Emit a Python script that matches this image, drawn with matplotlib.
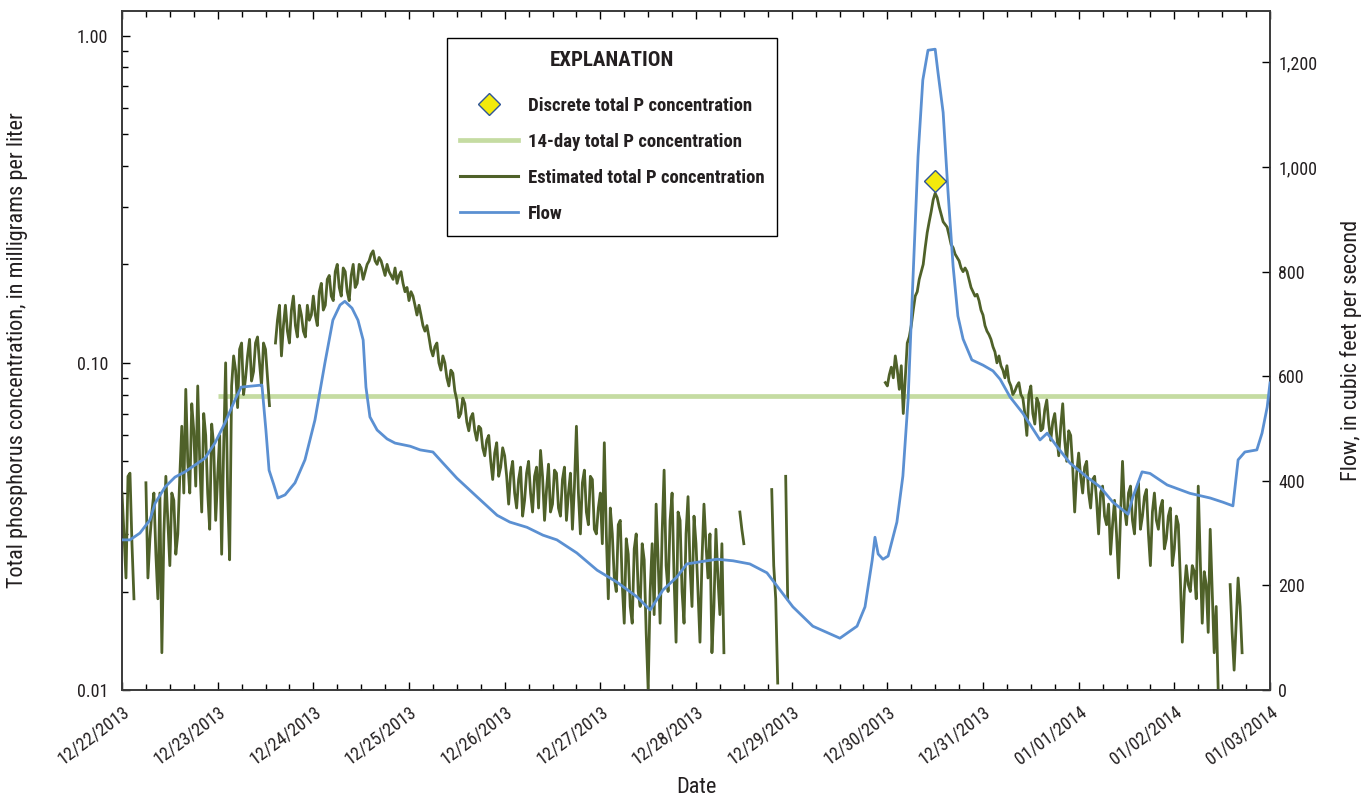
import numpy as np
import pandas as pd
import matplotlib
matplotlib.use("Agg")
import matplotlib.pyplot as plt
import matplotlib.dates as mdates
from matplotlib import font_manager as fm
from matplotlib.ticker import FixedLocator, LogLocator, NullFormatter, FuncFormatter
from matplotlib.lines import Line2D


def pick_font():
    """Prefer a narrow sans face; fall back to Liberation Sans."""
    prefs = ["Liberation Sans Narrow", "Roboto Condensed", "Open Sans Condensed",
             "Noto Sans", "DejaVu Sans", "Open Sans", "Roboto"]
    for fam in prefs:
        for f in fm.fontManager.ttflist:
            narrow_name = fam.endswith(("Narrow", "Condensed"))
            if f.name == fam and (narrow_name or f.stretch in ("condensed", "semi-condensed")):
                return f.name, ("normal" if narrow_name else f.stretch), True
    return "Liberation Sans", "normal", False


FONT, STRETCH, NARROW = pick_font()
plt.rcParams["font.family"] = [FONT, "DejaVu Sans"]
plt.rcParams["font.stretch"] = STRETCH
if NARROW:
    SZ = dict(tick=13, label=16, leg=13.5, title=15)
else:
    SZ = dict(tick=11, label=14, leg=11.4, title=12.8)

# ---------------------------------------------------------------- data
start = pd.Timestamp("2013-12-22 00:00")
end = pd.Timestamp("2014-01-03 00:00")

# Flow, cubic feet per second (hours after start, value)
flow_hours = [0.0, 2.0, 4.5, 7.0, 8.3, 10.8, 13.3, 15.8, 18.3, 20.8, 23.3, 25.8,
              28.3, 29.9, 35.1, 36.1, 36.9, 38.1, 39.1, 40.9, 43.4, 45.9, 48.4, 50.9,
              52.9, 54.7, 55.9, 57.7, 59.2, 60.5, 61.2, 62.2, 64.0, 66.5, 68.5, 72.3,
              74.8, 78.0, 80.5, 84.0, 89.1, 94.1, 97.3, 101.6, 105.6, 109.1, 114.1, 119.2,
              124.2, 129.2, 132.5, 135.7, 139.2, 141.7, 145.0, 149.3, 153.3, 157.5, 161.8, 165.1,
              168.3, 173.3, 180.1, 184.4, 186.4, 188.2, 188.9, 189.7, 190.9, 192.2, 194.4, 195.9,
              197.2, 198.4, 199.7, 200.9, 202.2, 204.0, 204.7, 206.0, 207.2, 208.5, 209.7, 211.0,
              213.2, 216.0, 218.5, 220.3, 222.8, 226.0, 230.3, 232.1, 234.6, 237.8, 242.1, 245.4,
              248.6, 252.4, 253.6, 255.9, 257.9, 262.2, 267.9, 273.0, 276.2, 278.7, 280.0, 281.7,
              284.7, 286.0, 287.3, 288.0]
flow_cfs = [287, 287, 300, 325, 357, 388, 407, 417, 430, 443, 472, 510,
            554, 579, 583, 497, 420, 392, 367, 373, 396, 440, 516, 625,
            707, 736, 743, 730, 707, 669, 579, 522, 497, 480, 472, 466,
            459, 455, 434, 405, 369, 334, 321, 311, 296, 287, 262, 229,
            206, 178, 153, 191, 216, 241, 245, 250, 247, 241, 224, 191,
            159, 122, 99, 122, 159, 248, 292, 260, 250, 256, 321, 409,
            554, 780, 1020, 1166, 1223, 1225, 1181, 1104, 955, 810, 715, 671,
            631, 621, 610, 594, 560, 529, 478, 491, 465, 434, 407, 388,
            359, 336, 369, 417, 414, 392, 376, 367, 359, 352, 440, 455,
            459, 491, 541, 587]

# Estimated total P concentration, mg/L (None = no estimate)
# readings on the hour, starting 12/22 00:00
conc_on_hour = [
    # 12/22
    0.040, 0.022, 0.046, 0.019, None, None, 0.043, 0.029, 0.040, 0.019, 0.013, 0.045,
    0.024, 0.038, 0.030, 0.064, 0.083, 0.040, 0.062, 0.085, 0.035, 0.060, 0.031, 0.056,
    # 12/23
    0.045, 0.026, 0.100, 0.025, 0.105, 0.073, 0.115, 0.090, 0.118, 0.094, 0.120, 0.085,
    0.110, 0.074, None, 0.135, 0.105, 0.150, 0.115, 0.160, 0.120, 0.140, 0.120, 0.135,
    # 12/24
    0.160, 0.130, 0.175, 0.150, 0.185, 0.155, 0.200, 0.160, 0.190, 0.155, 0.200, 0.175,
    0.195, 0.190, 0.205, 0.220, 0.200, 0.205, 0.185, 0.190, 0.180, 0.175, 0.190, 0.165,
    # 12/25
    0.155, 0.160, 0.140, 0.140, 0.125, 0.120, 0.105, 0.115, 0.095, 0.100, 0.085, 0.093,
    0.077, 0.070, 0.075, 0.062, 0.070, 0.058, 0.063, 0.052, 0.060, 0.044, 0.057, 0.048,
    # 12/26
    0.052, 0.037, 0.050, 0.036, 0.048, 0.038, 0.050, 0.035, 0.048, 0.054, 0.033, 0.049,
    0.037, 0.046, 0.034, 0.048, 0.040, 0.031, 0.064, 0.030, 0.047, 0.032, 0.044, 0.030,
    # 12/27
    0.040, 0.057, 0.019, 0.030, 0.020, 0.033, 0.016, 0.026, 0.016, 0.030, 0.018, 0.025,
    0.010, 0.028, 0.037, 0.016, 0.047, 0.020, 0.040, 0.014, 0.033, 0.016, 0.039, 0.018,
    # 12/28
    0.028, 0.014, 0.037, 0.022, 0.013, 0.031, 0.017, 0.013, None, None, None, 0.035,
    0.028, None, None, None, None, None, None, 0.041, 0.019, None, None, 0.019,
    # 12/29
    None, None, None, None, None, None, None, None, None, None, None, None,
    None, None, None, None, None, None, None, None, None, None, None, None,
    # 12/30
    0.085, 0.097, 0.105, 0.083, 0.070, 0.115, 0.130, 0.160, 0.180, 0.200, 0.250, 0.290,
    0.330, 0.300, 0.270, 0.260, 0.230, 0.215, 0.205, 0.190, 0.190, 0.170, 0.160, 0.155,
    # 12/31
    0.140, 0.125, 0.118, 0.108, 0.105, 0.095, 0.098, 0.085, 0.082, 0.087, 0.078, 0.060,
    0.085, 0.065, 0.075, 0.063, 0.077, 0.058, 0.070, 0.052, 0.075, 0.050, 0.060, 0.035,
    # 01/01
    0.053, 0.040, 0.050, 0.036, 0.045, 0.030, 0.042, 0.032, 0.026, 0.038, 0.022, 0.050,
    0.032, 0.042, 0.030, 0.043, 0.034, 0.041, 0.024, 0.040, 0.031, 0.038, 0.029, 0.036,
    # 01/02
    0.027, 0.032, 0.014, 0.024, 0.020, 0.023, 0.042, 0.016, 0.021, 0.031, 0.013, 0.010,
    None, None, 0.021, 0.0115, 0.022, 0.013, None, None, None, None, None, None,
]
# readings on the half hour, starting 12/22 00:30
conc_half_hour = [
    # 12/22
    0.030, 0.045, 0.028, None, None, None, 0.022, 0.035, 0.026, 0.040, 0.030, 0.033,
    0.040, 0.026, 0.045, 0.040, 0.050, 0.075, 0.042, 0.050, 0.070, 0.040, 0.065, 0.033,
    # 12/23
    0.060, 0.055, 0.040, 0.085, 0.095, 0.110, 0.080, 0.105, 0.088, 0.115, 0.100, 0.115,
    0.090, None, 0.115, 0.150, 0.130, 0.125, 0.145, 0.130, 0.150, 0.125, 0.150, 0.140,
    # 12/24
    0.140, 0.165, 0.145, 0.180, 0.160, 0.190, 0.170, 0.195, 0.165, 0.185, 0.170, 0.200,
    0.180, 0.200, 0.215, 0.205, 0.210, 0.195, 0.200, 0.185, 0.195, 0.185, 0.175, 0.170,
    # 12/25
    0.165, 0.150, 0.150, 0.130, 0.130, 0.110, 0.112, 0.100, 0.105, 0.090, 0.095, 0.082,
    0.068, 0.078, 0.066, 0.068, 0.062, 0.064, 0.055, 0.058, 0.050, 0.053, 0.045, 0.055,
    # 12/26
    0.045, 0.046, 0.040, 0.044, 0.034, 0.046, 0.040, 0.045, 0.036, 0.045, 0.041, 0.035,
    0.047, 0.036, 0.044, 0.033, 0.046, 0.042, 0.040, 0.043, 0.035, 0.045, 0.031, 0.036,
    # 12/27
    0.028, 0.030, 0.036, 0.022, 0.032, 0.021, 0.029, 0.018, 0.027, 0.020, 0.028, 0.015,
    0.020, 0.017, 0.025, 0.030, 0.024, 0.033, 0.022, 0.035, 0.020, 0.030, 0.024, 0.034,
    # 12/28
    0.020, 0.025, 0.028, 0.030, 0.018, 0.022, 0.028, None, None, None, None, 0.031,
    None, None, None, None, None, None, None, 0.024, 0.0105, None, 0.045, None,
    # 12/29
    None, None, None, None, None, None, None, None, None, None, None, None,
    None, None, None, None, None, None, None, None, None, None, None, 0.087,
    # 12/30
    0.092, 0.090, 0.095, 0.098, 0.090, 0.120, 0.145, 0.165, 0.190, 0.225, 0.270, 0.315,
    0.320, 0.285, 0.265, 0.245, 0.225, 0.210, 0.195, 0.195, 0.180, 0.165, 0.162, 0.145,
    # 12/31
    0.130, 0.122, 0.112, 0.100, 0.098, 0.090, 0.088, 0.080, 0.085, 0.080, 0.070, 0.080,
    0.070, 0.078, 0.062, 0.072, 0.065, 0.066, 0.060, 0.064, 0.058, 0.062, 0.048, 0.046,
    # 01/01
    0.045, 0.048, 0.040, 0.044, 0.038, 0.040, 0.034, 0.037, 0.032, 0.030, 0.034, 0.036,
    0.040, 0.033, 0.040, 0.031, 0.039, 0.030, 0.035, 0.033, 0.036, 0.027, 0.034, 0.024,
    # 01/02
    0.034, 0.022, 0.020, 0.021, 0.024, 0.019, 0.025, 0.023, 0.015, 0.020, 0.018, None,
    None, None, 0.015, 0.016, 0.018, None, None, None, None, None, None, None,
]

# 14-day composite sample
composite_start = "2013-12-23 00:00"
composite_end = "2014-01-03 00:00"
composite_mgL = 0.079

# Discrete grab sample
discrete_time = "2013-12-30 12:00"
discrete_mgL = 0.36

# ---------------------------------------------------------------- styling
GREEN = "#4f6129"
LIGHT = "#c5dca2"
BLUE = "#5b90d2"
YELLOW = "#f3ea0c"
EDGE = "#2f5597"
INK = "#231f20"


def as_float(vals):
    return np.array([np.nan if v is None else v for v in vals], dtype=float)


# merge the on-hour and half-hour readings into one 30-minute series
conc = np.empty(len(conc_on_hour) + len(conc_half_hour))
conc[0::2] = as_float(conc_on_hour)
conc[1::2] = as_float(conc_half_hour)
conc_times = pd.date_range(start, periods=len(conc), freq="30min")
flow_times = start + pd.to_timedelta(flow_hours, unit="h")

fig = plt.figure(figsize=(13.69, 7.98), dpi=100)
ax = fig.add_axes([122 / 1369, 1 - 690 / 798, 1148 / 1369, 679 / 798])
ax2 = ax.twinx()

ax.set_yscale("log")
ax.set_ylim(0.01, 1.19)
ax2.set_ylim(0, 1298)
ax.set_xlim(start, end)

ax.plot(pd.to_datetime([composite_start, composite_end]), [composite_mgL, composite_mgL],
        color=LIGHT, lw=3.4, solid_capstyle="butt", zorder=2)
ax.plot(conc_times, conc, color=GREEN, lw=2.0, zorder=3)
ax2.plot(flow_times, flow_cfs, color=BLUE, lw=2.0, zorder=3)
ax2.set_xlim(start, end)

# overlay axes so the discrete sample and the legend sit above the flow line
ax3 = fig.add_axes(ax.get_position(), sharex=ax, frameon=False)
ax3.set_yscale("log")
ax3.set_ylim(0.01, 1.19)
ax3.plot(pd.to_datetime([discrete_time]), [discrete_mgL], marker="D", ls="none",
         ms=11, mfc=YELLOW, mec=EDGE, mew=1.0, zorder=5)
ax3.axis("off")

# ---------------------------------------------------------------- axes
for a in (ax, ax2):
    for s in a.spines.values():
        s.set_color("#3a3a3a")
        s.set_linewidth(1.2)

ax.xaxis.set_major_locator(mdates.DayLocator())
ax.xaxis.set_minor_locator(mdates.HourLocator(byhour=[6, 12, 18]))
ax.xaxis.set_major_formatter(mdates.DateFormatter("%m/%d/%Y"))
ax.tick_params(axis="x", which="major", direction="in", length=6, width=1.0,
               top=True, bottom=True, labelsize=SZ["tick"], labelcolor=INK, pad=9)
ax.tick_params(axis="x", which="minor", direction="in", length=4, width=1.0,
               top=True, bottom=True)
for lab in ax.get_xticklabels():
    lab.set_rotation(37)
    lab.set_ha("right")
    lab.set_rotation_mode("anchor")

ax.yaxis.set_major_locator(FixedLocator([0.01, 0.1, 1.0]))
ax.yaxis.set_major_formatter(FuncFormatter(lambda v, p: f"{v:.2f}"))
ax.yaxis.set_minor_locator(LogLocator(base=10, subs=np.arange(2, 10), numticks=20))
ax.yaxis.set_minor_formatter(NullFormatter())
ax.tick_params(axis="y", which="major", direction="in", length=6, width=1.0,
               labelsize=SZ["tick"], labelcolor=INK, right=False, pad=10)
ax.tick_params(axis="y", which="minor", direction="in", length=4, width=1.0, right=False)

ax2.yaxis.set_major_locator(FixedLocator(np.arange(0, 1201, 200)))
ax2.yaxis.set_major_formatter(FuncFormatter(lambda v, p: f"{v:,.0f}"))
ax2.tick_params(axis="y", which="major", direction="in", length=6, width=1.0,
                labelsize=SZ["tick"], labelcolor=INK, pad=6)
ax2.tick_params(axis="x", which="both", bottom=False, top=False, labelbottom=False)

ax.set_ylabel("Total phosphorus concentration, in milligrams per liter",
              fontsize=SZ["label"], color=INK)
ax.yaxis.set_label_coords(-0.0815, 0.5)
ax2.set_ylabel("Flow, in cubic feet per second", fontsize=SZ["label"], color=INK)
ax2.yaxis.set_label_coords(1.061, 0.5)
ax.set_xlabel("Date", fontsize=SZ["label"], color=INK)
ax.xaxis.set_label_coords(0.5, -0.128)

# ---------------------------------------------------------------- legend
handles = [
    Line2D([], [], marker="D", ls="none", ms=11, mfc=YELLOW, mec=EDGE, mew=1.0),
    Line2D([], [], color=LIGHT, lw=3.4),
    Line2D([], [], color=GREEN, lw=2.2),
    Line2D([], [], color=BLUE, lw=2.0),
]
labels = ["Discrete total P concentration", "14-day total P concentration",
          "Estimated total P concentration", "Flow"]
leg = ax3.legend(handles, labels, title="EXPLANATION", loc="upper left",
                 bbox_to_anchor=(447 / 1369, 1 - 38 / 798), bbox_transform=fig.transFigure,
                 borderaxespad=0, frameon=True, fancybox=False, edgecolor="black",
                 framealpha=1, handlelength=3.1, handletextpad=0.5, labelspacing=0.96,
                 borderpad=0.7, prop={"weight": "bold", "size": SZ["leg"]},
                 title_fontproperties={"weight": "bold", "size": SZ["title"]})
leg.get_frame().set_linewidth(1.0)
leg._legend_box.sep = 19
for t in leg.get_texts():
    t.set_color(INK)
leg.get_title().set_color(INK)

fig.savefig("out.png", dpi=100)
